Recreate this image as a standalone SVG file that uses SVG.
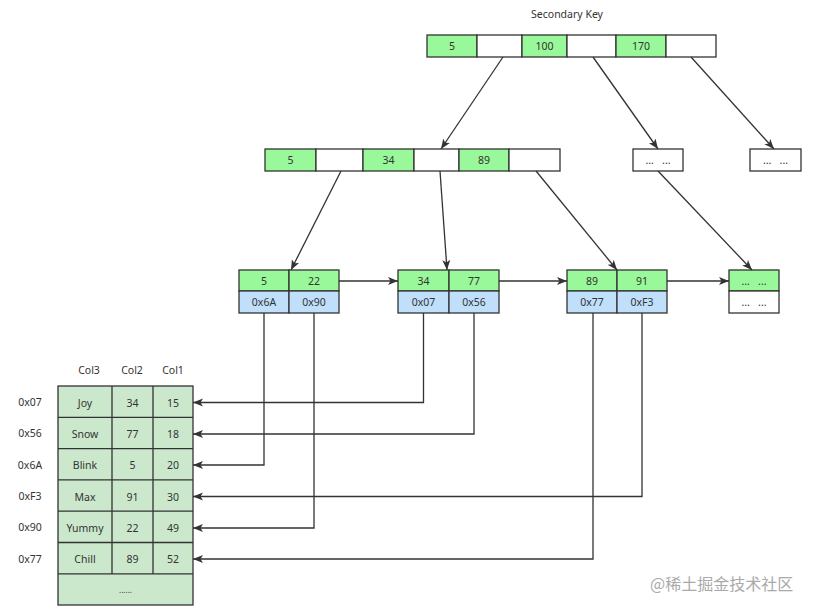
<svg xmlns="http://www.w3.org/2000/svg" width="822" height="611" viewBox="0 0 822 611">
<defs>
<style>
text{font-family:"Noto Sans","Liberation Sans",sans-serif;font-size:10.5px;fill:#333;text-anchor:middle;dominant-baseline:central}
.g{fill:#99f899;stroke:#333;stroke-width:1.3}
.w{fill:#fff;stroke:#333;stroke-width:1.3}
.b{fill:#bfdffb;stroke:#333;stroke-width:1.3}
.t{fill:#cbe8cc;stroke:#333;stroke-width:1.3}
.c{fill:none;stroke:#333;stroke-width:1.3}
.wm{font-family:"Noto Sans CJK SC",sans-serif;font-size:16px;fill:#aaa;text-anchor:start}
</style>
<marker id="ah" viewBox="0 0 10 10" refX="10" refY="5" markerWidth="10" markerHeight="10" markerUnits="userSpaceOnUse" orient="auto">
<path d="M0,1 L10,5 L0,9 L2.5,5 Z" fill="#333"/>
</marker>
</defs>
<rect width="822" height="611" fill="#fff"/>
<text x="567" y="14">Secondary Key</text>

<g id="root">
<rect class="g" x="427" y="35" width="50" height="22"/>
<rect class="w" x="477" y="35" width="45" height="22"/>
<rect class="g" x="522" y="35" width="45" height="22"/>
<rect class="w" x="567" y="35" width="49" height="22"/>
<rect class="g" x="616" y="35" width="50" height="22"/>
<rect class="w" x="666" y="35" width="50" height="22"/>
<text x="452" y="46">5</text>
<text x="544.5" y="46">100</text>
<text x="641" y="46">170</text>
</g>

<g id="internal1">
<rect class="g" x="265" y="149" width="51" height="22"/>
<rect class="w" x="316" y="149" width="47" height="22"/>
<rect class="g" x="363" y="149" width="51" height="22"/>
<rect class="w" x="414" y="149" width="45" height="22"/>
<rect class="g" x="459" y="149" width="50" height="22"/>
<rect class="w" x="509" y="149" width="51" height="22"/>
<text x="290.5" y="160">5</text>
<text x="388.5" y="160">34</text>
<text x="484" y="160">89</text>
</g>

<g id="internal2">
<rect class="w" x="633" y="149" width="50" height="22"/>
<text x="658" y="160">...&#160;&#160;&#160;...</text>
</g>
<g id="internal3">
<rect class="w" x="750" y="149" width="51" height="22"/>
<text x="775.5" y="160">...&#160;&#160;&#160;...</text>
</g>

<g id="leaf1">
<rect class="g" x="239" y="270" width="50" height="21"/>
<rect class="g" x="289" y="270" width="50" height="21"/>
<rect class="b" x="239" y="291" width="50" height="22"/>
<rect class="b" x="289" y="291" width="50" height="22"/>
<text x="264" y="280.5">5</text>
<text x="314" y="280.5">22</text>
<text x="264" y="302">0x6A</text>
<text x="314" y="302">0x90</text>
</g>
<g id="leaf2">
<rect class="g" x="398" y="270" width="51" height="21"/>
<rect class="g" x="449" y="270" width="50" height="21"/>
<rect class="b" x="398" y="291" width="51" height="22"/>
<rect class="b" x="449" y="291" width="50" height="22"/>
<text x="423.5" y="280.5">34</text>
<text x="474" y="280.5">77</text>
<text x="423.5" y="302">0x07</text>
<text x="474" y="302">0x56</text>
</g>
<g id="leaf3">
<rect class="g" x="567" y="270" width="50" height="21"/>
<rect class="g" x="617" y="270" width="50" height="21"/>
<rect class="b" x="567" y="291" width="50" height="22"/>
<rect class="b" x="617" y="291" width="50" height="22"/>
<text x="592" y="280.5">89</text>
<text x="642" y="280.5">91</text>
<text x="592" y="302">0x77</text>
<text x="642" y="302">0xF3</text>
</g>
<g id="leaf4">
<rect class="g" x="729" y="270" width="50" height="21"/>
<rect class="w" x="729" y="291" width="50" height="22"/>
<text x="754" y="280.5">...&#160;&#160;&#160;...</text>
<text x="754" y="302">...&#160;&#160;&#160;...</text>
</g>

<g id="table">
<text x="89" y="370">Col3</text>
<text x="132" y="370">Col2</text>
<text x="173" y="370">Col1</text>
<rect class="t" x="58" y="386" width="135" height="219"/>
<path class="c" d="M58,417.3H193M58,448.6H193M58,479.9H193M58,511.2H193M58,542.5H193M58,573.8H193M112,386V573.8M153,386V573.8"/>
<text x="30" y="402">0x07</text>
<text x="30" y="433">0x56</text>
<text x="30" y="464.5">0x6A</text>
<text x="30" y="496">0xF3</text>
<text x="30" y="527">0x90</text>
<text x="30" y="558.5">0x77</text>
<text x="85" y="402.5">Joy</text>
<text x="132.5" y="402.5">34</text>
<text x="173" y="402.5">15</text>
<text x="85" y="434">Snow</text>
<text x="132.5" y="434">77</text>
<text x="173" y="434">18</text>
<text x="85" y="465">Blink</text>
<text x="132.5" y="465">5</text>
<text x="173" y="465">20</text>
<text x="85" y="496.5">Max</text>
<text x="132.5" y="496.5">91</text>
<text x="173" y="496.5">30</text>
<text x="85" y="528">Yummy</text>
<text x="132.5" y="528">22</text>
<text x="173" y="528">49</text>
<text x="85" y="559">Chill</text>
<text x="132.5" y="559">89</text>
<text x="173" y="559">52</text>
<text x="125.5" y="589" style="font-size:8px">......</text>
</g>

<g id="connectors">
<path class="c" marker-end="url(#ah)" d="M503,57L441,149"/>
<path class="c" marker-end="url(#ah)" d="M593,57L658,149"/>
<path class="c" marker-end="url(#ah)" d="M691,57L774,149"/>
<path class="c" marker-end="url(#ah)" d="M341,171L291,270"/>
<path class="c" marker-end="url(#ah)" d="M440,171L447,270"/>
<path class="c" marker-end="url(#ah)" d="M536,171L617,270"/>
<path class="c" marker-end="url(#ah)" d="M658,171L752,270"/>
<path class="c" marker-end="url(#ah)" d="M339,281H398"/>
<path class="c" marker-end="url(#ah)" d="M499,281H567"/>
<path class="c" marker-end="url(#ah)" d="M667,281H729"/>
<path class="c" marker-end="url(#ah)" d="M423.5,313V402.5H193"/>
<path class="c" marker-end="url(#ah)" d="M474,313V434H193"/>
<path class="c" marker-end="url(#ah)" d="M264,313V465H193"/>
<path class="c" marker-end="url(#ah)" d="M642,313V496.5H193"/>
<path class="c" marker-end="url(#ah)" d="M314,313V528H193"/>
<path class="c" marker-end="url(#ah)" d="M593,313V559H193"/>
</g>
<text class="wm" x="650" y="583">@稀土掘金技术社区</text>
</svg>
